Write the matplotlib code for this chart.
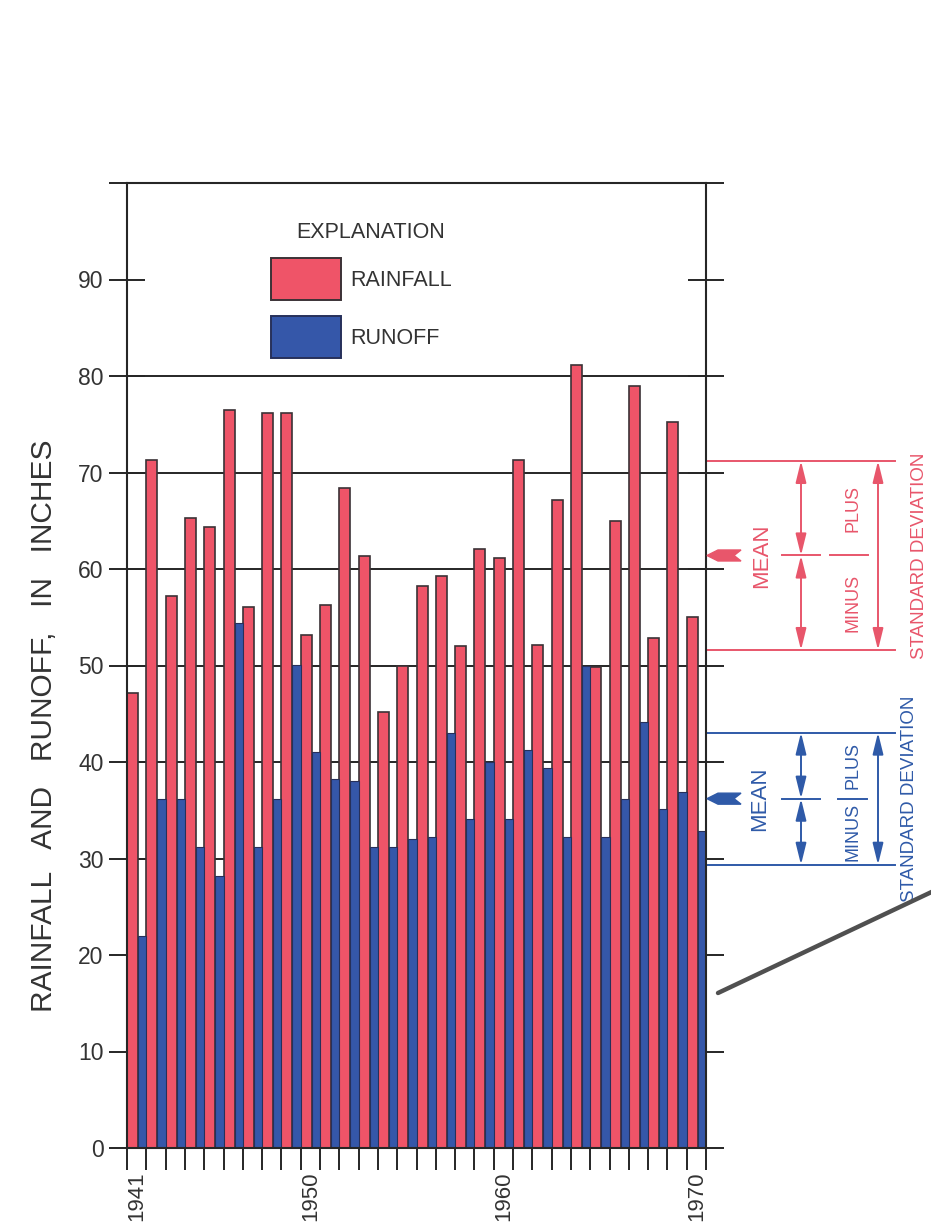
import numpy as np
import matplotlib.pyplot as plt
from matplotlib.patches import Polygon, Rectangle
from matplotlib.transforms import blended_transform_factory

plt.rcParams['font.family'] = ['Liberation Sans', 'DejaVu Sans']

# annual values, 1941-1970 (inches)
years = list(range(1941, 1971))
rainfall = [47.2, 71.3, 57.2, 65.3, 64.4, 76.5, 56.1, 76.2, 76.2, 53.2,
            56.3, 68.4, 61.3, 45.2, 50.0, 58.2, 59.3, 52.0, 62.1, 61.1,
            71.3, 52.1, 67.2, 81.1, 49.8, 65.0, 79.0, 52.9, 75.2, 55.0]
runoff = [22.0, 36.2, 36.2, 31.2, 28.2, 54.4, 31.2, 36.2, 50.1, 41.0,
          38.2, 38.0, 31.2, 31.2, 32.0, 32.2, 43.0, 34.1, 40.0, 34.1,
          41.2, 39.4, 32.2, 50.0, 32.2, 36.2, 44.1, 35.1, 36.9, 32.8]
labelled_years = [1941, 1950, 1960, 1970]
y_ticks = list(range(0, 101, 10))

# summary as drawn on the right side
rain_mean, rain_sd = 61.4, 9.8
runoff_mean, runoff_sd = 36.2, 6.85

RED = '#ef5468'
BLUE = '#3557a9'
RED_NOTE = '#e8566b'
BLUE_NOTE = '#2f5aa8'
EDGE = '#3b3236'
INK = '#262626'

fig = plt.figure(figsize=(9.31, 12.25), dpi=100)
W, H = 931, 1225
ax = fig.add_axes([127 / W, 77 / H, 579 / W, 965 / H])
ax.set_xlim(0, 30)
ax.set_ylim(0, 100)

# grid lines behind the bars (none at 90)
for v in range(10, 90, 10):
    ax.axhline(v, color=INK, lw=1.4, zorder=1)

x = np.arange(len(years))
ax.bar(x, rainfall, width=0.57, align='edge', color=RED,
       edgecolor=EDGE, linewidth=1.2, zorder=2)
ax.bar(x + 0.57, runoff, width=0.43, align='edge', color=BLUE,
       edgecolor='#27305a', linewidth=0.8, zorder=2)

for s in ['left', 'right', 'bottom', 'top']:
    ax.spines[s].set_color(INK)
    ax.spines[s].set_linewidth(1.5)

ax.set_yticks(y_ticks)
ax.set_yticklabels([str(v) if v < 100 else '' for v in y_ticks])
ax.tick_params(axis='y', which='major', direction='inout', length=26,
               width=1.4, color=INK, right=True, labelsize=16.5,
               labelcolor='#333333', pad=4)

ax.set_xticks(np.arange(0, 31))
ax.set_xticklabels([])
ax.tick_params(axis='x', which='major', direction='out', length=16,
               width=1.4, color=INK)
ax.set_xticks([years.index(y) + 0.5 for y in labelled_years], minor=True)
ax.set_xticklabels([str(y) for y in labelled_years], minor=True,
                   rotation=90, va='top', ha='center')
ax.tick_params(axis='x', which='minor', length=0, pad=17,
               labelsize=16, labelcolor='#333333')

ax.set_ylabel('RAINFALL   AND   RUNOFF,   IN   INCHES', fontsize=21.5,
              color='#333333')
ax.yaxis.set_label_coords(-0.12, 0.438)

# explanation
fig.text(371 / W, 1 - 232 / H, 'EXPLANATION', fontsize=15.5,
         ha='center', va='center', color='#333333')
fig.add_artist(Rectangle((271 / W, 1 - 300 / H), 70 / W, 42 / H,
                         transform=fig.transFigure, facecolor=RED,
                         edgecolor=EDGE, lw=1.4))
fig.add_artist(Rectangle((271 / W, 1 - 358 / H), 70 / W, 42 / H,
                         transform=fig.transFigure, facecolor=BLUE,
                         edgecolor='#27305a', lw=1.4))
fig.text(350 / W, 1 - 281 / H, 'RAINFALL', fontsize=15.5,
         ha='left', va='center', color='#333333')
fig.text(350 / W, 1 - 338 / H, 'RUNOFF', fontsize=15.5,
         ha='left', va='center', color='#333333')

# mean / standard deviation brackets to the right of the plot
tr = blended_transform_factory(fig.transFigure, ax.transData)
px = 965 / 100.0  # pixels per inch of rainfall on the y scale


def bracket(mean, sd, color, mean_x, sep, sd_x):
    top, bot = mean + sd, mean - sd
    for v in (top, bot):
        ax.plot([707 / W, 895 / W], [v, v], color=color, lw=1.4,
                transform=tr, clip_on=False)
    h = 5.5 / px
    marker = [(707, mean), (718, mean + h), (741, mean + h),
              (734, mean), (741, mean - h), (718, mean - h)]
    fig.add_artist(Polygon([(a / W, b) for a, b in marker], closed=True,
                           transform=tr, facecolor=color, edgecolor=color))
    ax.text(mean_x / W, mean, 'MEAN', rotation=90, fontsize=16,
            ha='center', va='center', color=color, transform=tr)
    arrow = dict(arrowstyle='<|-|>,head_length=1.3,head_width=0.32',
                 mutation_scale=10, color=color, lw=1.4,
                 shrinkA=0, shrinkB=0)
    for a, b in ((top, mean), (mean, bot)):
        ax.annotate('', xy=(801 / W, a), xytext=(801 / W, b),
                    xycoords=tr, textcoords=tr, arrowprops=arrow,
                    annotation_clip=False)
    ax.annotate('', xy=(878 / W, top), xytext=(878 / W, bot),
                xycoords=tr, textcoords=tr, arrowprops=arrow,
                annotation_clip=False)
    ax.plot([782 / W, 820 / W], [mean, mean], color=color, lw=1.4,
            transform=tr, clip_on=False)
    ax.plot([sep[0] / W, sep[1] / W], [mean, mean], color=color, lw=1.4,
            transform=tr, clip_on=False)
    ax.text(853 / W, mean + sd / 2, 'PLUS', rotation=90, fontsize=13,
            ha='center', va='center', color=color, transform=tr)
    ax.text(853 / W, mean - sd / 2, 'MINUS', rotation=90, fontsize=13,
            ha='center', va='center', color=color, transform=tr)
    ax.text(sd_x / W, mean, 'STANDARD DEVIATION', rotation=90,
            fontsize=13.5, ha='center', va='center', color=color,
            transform=tr)


bracket(rain_mean, rain_sd, RED_NOTE, 762, (830, 868), 919)
bracket(runoff_mean, runoff_sd, BLUE_NOTE, 760, (838, 867), 909)

# pointer line running off the right edge
fig.add_artist(plt.Line2D([718 / W, 940 / W], [1 - 993 / H, 1 - 888 / H],
                          transform=fig.transFigure, color='#505050',
                          lw=3.2, solid_capstyle='round'))

fig.savefig('out.png', dpi=100)
